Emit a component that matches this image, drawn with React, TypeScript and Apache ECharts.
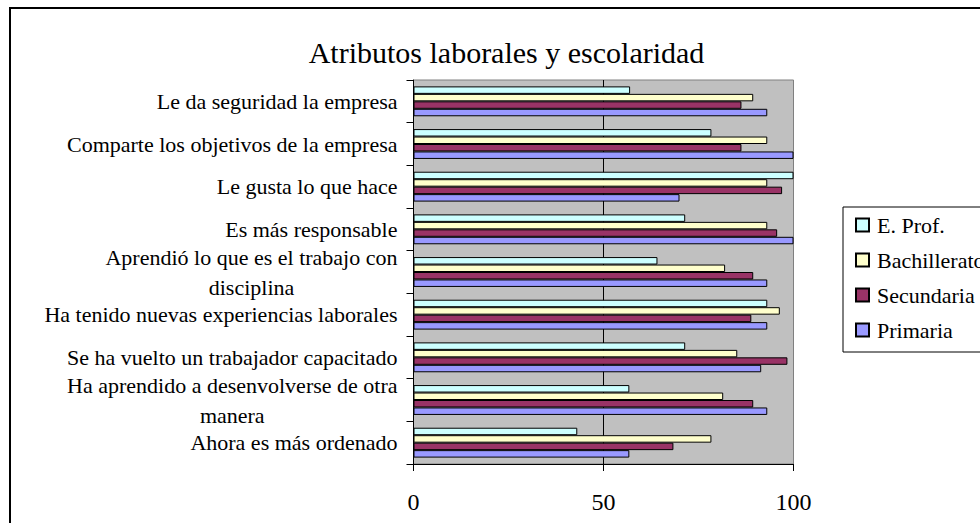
import React, { useEffect, useRef } from "react";
import * as echarts from "echarts";

const title = "Atributos laborales y escolaridad";

const categories = [
  "Le da seguridad la empresa",
  "Comparte los objetivos de la empresa",
  "Le gusta lo que hace",
  "Es más responsable",
  "Aprendió lo que es el trabajo con\ndisciplina",
  "Ha tenido nuevas experiencias laborales",
  "Se ha vuelto un trabajador capacitado",
  "Ha aprendido a desenvolverse de otra\nmanera",
  "Ahora es más ordenado",
];

const seriesNames = ["E. Prof.", "Bachillerato", "Secundaria", "Primaria"];

const eProf = [57, 78.4, 100, 71.5, 64.2, 93.1, 71.5, 56.8, 43.1];
const bachillerato = [89.4, 93.1, 93.1, 93.1, 82, 96.4, 85.2, 81.5, 78.4];
const secundaria = [86.3, 86.3, 97, 95.7, 89.4, 88.9, 98.4, 89.4, 68.4];
const primaria = [93.1, 100, 70, 100, 93.1, 93.1, 91.5, 93.1, 56.8];

const xTicks = { min: 0, max: 100, interval: 50 };

const colors = ["#CCFFFF", "#FFFFCC", "#993366", "#9999FF"];

const FONT = "'Liberation Serif', 'Times New Roman', serif";

export default function App() {
  const ref = useRef<HTMLDivElement>(null);

  useEffect(() => {
    if (!ref.current) return;
    const chart = echarts.init(ref.current, undefined, { renderer: "svg" });
    const values = [eProf, bachillerato, secundaria, primaria];

    chart.setOption({
      animation: false,
      backgroundColor: "#ffffff",
      graphic: [
        {
          type: "rect",
          z: -1,
          shape: { x: 10, y: 8, width: 1100, height: 700 },
          style: { fill: "transparent", stroke: "#000", lineWidth: 2 },
        },
        {
          type: "text",
          x: 506.5,
          y: 52.5,
          style: {
            text: title,
            fontFamily: FONT,
            fontSize: 30,
            fill: "#000",
            align: "center",
            verticalAlign: "middle",
          },
        },
      ],
      legend: {
        data: seriesNames,
        orient: "vertical",
        left: 843,
        top: 207,
        itemWidth: 13,
        itemHeight: 13,
        itemGap: 13,
        padding: [7, 10, 11, 12],
        borderColor: "#000",
        borderWidth: 1,
        backgroundColor: "#fff",
        icon: "rect",
        textStyle: {
          fontFamily: FONT,
          fontSize: 22,
          lineHeight: 22,
          color: "#000",
          padding: [0, 0, 0, 3],
        },
      },
      grid: {
        left: 413.5,
        right: 186.5,
        top: 80,
        bottom: 59,
        show: true,
        backgroundColor: "#C0C0C0",
        borderColor: "#808080",
        borderWidth: 1,
        outerBoundsMode: "none",
      },
      xAxis: {
        type: "value",
        min: xTicks.min,
        max: xTicks.max,
        interval: xTicks.interval,
        axisLine: { show: true, lineStyle: { color: "#000", width: 1 } },
        axisTick: { show: true, length: 7, lineStyle: { color: "#000" } },
        axisLabel: {
          fontFamily: FONT,
          fontSize: 24,
          color: "#000",
          margin: 26,
        },
        splitLine: {
          show: true,
          showMinLine: false,
          showMaxLine: false,
          lineStyle: { color: "#000", width: 1 },
        },
      },
      yAxis: {
        type: "category",
        data: categories,
        inverse: true,
        axisLine: { show: true, lineStyle: { color: "#000", width: 1 } },
        axisTick: { show: true, length: 7, interval: 0, lineStyle: { color: "#000" } },
        axisLabel: {
          interval: 0,
          hideOverlap: false,
          fontFamily: FONT,
          fontSize: 22,
          lineHeight: 30,
          color: "#000",
          margin: 16,
          formatter: (v: string) =>
            v.indexOf("\n") >= 0
              ? v
                  .split("\n")
                  .map((l) => "{c|" + l + "}")
                  .join("\n")
              : v,
          rich: {
            c: {
              align: "center",
              fontFamily: FONT,
              fontSize: 22,
              lineHeight: 30,
              color: "#000",
            },
          },
        },
        splitLine: { show: false },
      },
      series: seriesNames.map((name, i) => ({
        name,
        type: "bar",
        data: values[i],
        barGap: "0%",
        barCategoryGap: "30%",
        itemStyle: {
          color: colors[i],
          borderColor: "#000",
          borderWidth: 1,
        },
      })),
    });

    return () => chart.dispose();
  }, []);

  return (
    <div
      ref={ref}
      style={{ position: "absolute", left: 0, top: 0, width: 980, height: 523 }}
    />
  );
}
